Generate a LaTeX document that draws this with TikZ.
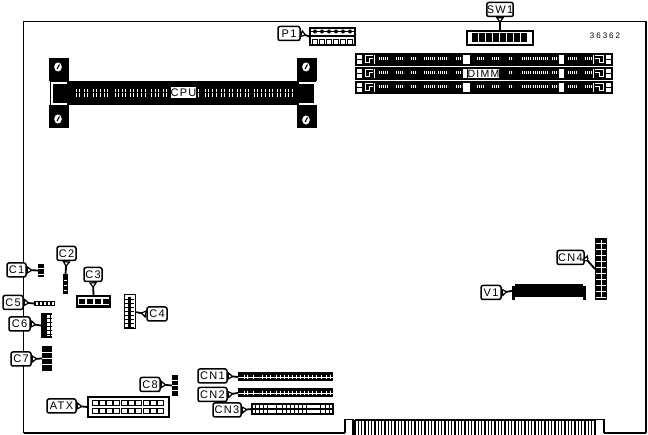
\documentclass[tikz,border=0pt]{standalone}
\usepackage{fontspec}
\setmainfont{Liberation Sans}[LetterSpace=12]
\usetikzlibrary{arrows.meta,calc}
\tikzset{
	tag/.style={draw,line width=1.5pt,rounded corners=2pt,fill=white,inner sep=0pt,minimum height=14pt,font=\fontsize{11}{12}\selectfont},
	lead/.style={line width=1.8pt,{Triangle[reversed,fill=white,line width=1.2pt,length=6pt,width=8pt]}-},
	part/.style={fill=black,inner sep=0pt,outer sep=0pt},
	hole/.style={draw=black,line width=1pt,fill=white,inner sep=0pt,outer sep=0pt},
	pin/.style={white,line width=.6pt}
}
\begin{document}
\begin{tikzpicture}[x=1pt,y=-1pt]
	\useasboundingbox (0,0) rectangle (648,435);
	% board outline
	\draw[line width=1.2pt] (23.5,433.5) -- (23.5,21.5) -- (646,21.5) -- (646,433.5);
	\draw[line width=1.2pt] (604,433.5) -- (604,419.5) -- (595,419.5);
	\draw[line width=1.2pt] (345,433.5) -- (345,419.5) -- (353,419.5) -- (353,435);
	\draw[line width=2pt] (23.5,433.5) -- (345,433.5);
	\draw[line width=2pt] (604,433.5) -- (646,433.5);
	% edge fingers
	\draw[line width=1.2pt] (355,420) -- (595,420);
	\foreach \n in {0,...,72}
		\draw[line width=1.2pt] ($(355,420)+(\n*3.333,0)$) -- ++(0,15);

	% CPU slot
	\fill (49,58) rectangle (69,81);
	\fill (49,105) rectangle (69,128);
	\fill (297,58) rectangle (317,81);
	\fill (297,105) rectangle (317,128);
	\fill (50,81) rectangle (316,105);
	\draw[white,line width=1.1pt] (67,83) -- (52,83) -- (52,104) -- (67,104);
	\draw[white,line width=1.1pt] (299,83) -- (315,83) -- (315,104) -- (299,104);
	\foreach \x/\y in {58/67,58/119,306/67,306/120} {
		\fill[white] (\x,\y) ellipse (3.8pt and 4.6pt);
		\draw[line width=1.1pt] (\x+1.5,\y-2.5) -- (\x-1,\y+2);
	}
	\foreach \x in {76,79,84,87,93,96,100,104,107,115,118,122,125,130,133,137,141,145,151,155,158,163,166,
		198,205,208,212,216,221,224,229,232,237,240,245,248,254,257,261,265,269,272,277,280,285,288,292}
		\draw[pin,line width=.9pt,dash pattern=on 3.5pt off 1pt] (\x+.5,89) -- (\x+.5,97);
	\node[part,fill=white,text=black,minimum width=23pt,minimum height=11pt,font=\fontsize{11}{12}\selectfont] (CPU) at (183.5,93) {CPU};

	% DIMM slots
	\foreach \y in {54,68,82} {
		\draw[line width=1.1pt] (356,\y) rectangle (612,\y+11);
		\fill (375,\y) rectangle (463,\y+11);
		\fill (470,\y) rectangle (559,\y+11);
		\fill (564,\y) rectangle (593,\y+11);
		\fill (362,\y) rectangle (374,\y+11);
		\fill (594,\y) rectangle (606,\y+11);
		\draw[line width=1.1pt] (356,\y+5.5) -- (362,\y+5.5);
		\draw[line width=1.1pt] (606,\y+5.5) -- (612,\y+5.5);
		\draw[white,line width=1pt] (373,\y+2) -- (365,\y+2) -- (365,\y+9) -- (369,\y+9) -- (369,\y+5) -- (373,\y+5);
		\draw[white,line width=1pt] (595,\y+2) -- (603,\y+2) -- (603,\y+9) -- (599,\y+9) -- (599,\y+5) -- (595,\y+5);
		\foreach \a/\b in {379/388,396/404,411/417,424/436,438/448,456/462,477/484,492/500,509/513,522/532,533/549,552/558,568/577,585/592}
			\draw[pin,line width=3.5pt,dash pattern=on .8pt off 1.2pt] (\a,\y+4.5) -- (\b,\y+4.5);
	}
	\node[part,fill=white,draw=black,line width=1.1pt,text=black,minimum width=31pt,minimum height=11pt,font=\fontsize{10.5}{11}\selectfont] (DIMM) at (483.5,73.5) {DIMM};

	% parts
	\node[draw,line width=1.2pt,inner sep=0pt,minimum width=66pt,minimum height=14pt] (SW) at (500,38) {};
	\fill (472,33.5) rectangle (528,42);
	\foreach \n in {0,...,7}
		\draw[white,line width=.5pt] (478+\n*7,33.5) -- (478+\n*7,42);
	\node[draw,line width=1.1pt,inner sep=0pt,minimum width=45pt,minimum height=17pt] (P) at (332.5,36.5) {};
	\draw[line width=1.8pt] (311,36) -- (354,36);
	\foreach \n in {0,...,5} {
		\fill (315+\n*7,31.5) circle (2pt);
		\draw[line width=.9pt] (312+\n*7,39.5) rectangle ++(5.5,4.5);
	}
	\draw[line width=1pt] (311,31.5) -- (354,31.5);

	\node[part,minimum width=6pt,minimum height=13pt] (Pc1) at (41,270.5) {};
	\draw[pin] (38,268) -- (44,268) (38,274) -- (44,274);
	\node[part,minimum width=5pt,minimum height=20pt] (Pc2) at (65.5,284) {};
	\foreach \y in {280,285,290}
		\draw[pin] (64,\y) -- (67,\y);
	\node[part,minimum width=35pt,minimum height=13pt] (Pc3) at (93.5,301.5) {};
	\fill[white] (78,297.5) rectangle (109,305);
	\foreach \x in {79,87,95,103}
		\fill (\x,299) rectangle ++(5.5,5);
	\node[hole,minimum width=11pt,minimum height=34pt] (Pc4) at (129.5,312) {};
	\draw[line width=3pt] (129.5,297) -- (129.5,327);
	\foreach \y in {299,303,...,327}
		\draw[line width=.8pt] (125,\y) -- (134,\y);
	\node[part,minimum width=21pt,minimum height=5pt] (Pc5) at (44.5,303.5) {};
	\foreach \x in {36,40,44,48,52}
		\fill[white] (\x,302.5) rectangle ++(2.2,2.2);
	\node[part,minimum width=11pt,minimum height=25pt] (Pc6) at (46.5,325.5) {};
	\foreach \x in {47,51}
		\fill[white] (\x-.5,315) rectangle ++(3,21);
	\foreach \y in {318,322,...,334}
		\draw[line width=.9pt] (41,\y) -- (52,\y);
	\node[part,minimum width=10pt,minimum height=25pt] (Pc7) at (47,358.5) {};
	\foreach \y in {352,358,364}
		\draw[pin] (42,\y) -- (52,\y);
	\node[part,minimum width=6pt,minimum height=21pt] (Pc8) at (175,385.5) {};
	\foreach \y in {380,385,390}
		\draw[pin] (172,\y) -- (178,\y);

	\node[draw,line width=1.1pt,inner sep=0pt,minimum width=81pt,minimum height=20pt] (Patx) at (128.5,407) {};
	\foreach \n in {0,...,9} {
		\draw[line width=.9pt] (92+\n*7.3,400) rectangle ++(6,5);
		\draw[line width=.9pt] (92+\n*7.3,408.5) rectangle ++(6,5);
	}

	\foreach \y/\name in {377/Pcn1,393/Pcn2} {
		\node[part,minimum width=95pt,minimum height=9pt] (\name) at (285.5,\y) {};
		\draw[pin] (238,\y) -- (333,\y);
		\foreach \x in {244,247,253,262,266,270,276,280,284,288,292,296,300,304,308,312,316,321,326,330}
			\draw[pin] (\x,\y-2) -- (\x,\y+2);
	}
	\node[hole,line width=1.4pt,minimum width=81pt,minimum height=10pt] (Pcn3) at (292.5,409) {};
	\draw[line width=1.4pt] (252,409) -- (333,409);
	\foreach \x in {255,259,263,267,276,282,286,290,294,298,302,306,320,325,329}
		\draw[line width=.8pt] (\x,404) -- (\x,414);

	\node[part,minimum width=12pt,minimum height=62pt] (Pcn4) at (601,269) {};
	\draw[pin] (601,240) -- (601,298);
	\foreach \n in {0,...,9}
		\draw[pin] (596,243+\n*6) -- (606,243+\n*6);
	\node[part,minimum width=68pt,minimum height=13pt] (Pv) at (549,290.5) {};
	\fill (512,286) rectangle (515,300);
	\fill (583,286) rectangle (586,300);

	% callouts
	\node[tag,minimum width=25pt] (SW1) at (500,9.5) {SW1};
	\node[tag,minimum width=22pt] (P1) at (289,33.5) {P1};
	\node[tag,minimum width=19pt] (C1) at (16.5,270) {C1};
	\node[tag,minimum width=19pt] (C2) at (66.5,253.5) {C2};
	\node[tag,minimum width=18pt] (C3) at (93,274.5) {C3};
	\node[tag,minimum width=20pt] (C4) at (157,314) {C4};
	\node[tag,minimum width=20pt] (C5) at (13,302.5) {C5};
	\node[tag,minimum width=21pt] (C6) at (19.5,324) {C6};
	\node[tag,minimum width=20pt] (C7) at (21,359) {C7};
	\node[tag,minimum width=20pt] (C8) at (150,384.5) {C8};
	\node[tag,minimum width=29pt] (ATX) at (61.5,406) {ATX};
	\node[tag,minimum width=29pt] (CN1) at (212.5,376) {CN1};
	\node[tag,minimum width=29pt] (CN2) at (212.5,394.5) {CN2};
	\node[tag,minimum width=28pt] (CN3) at (227,410) {CN3};
	\node[tag,minimum width=27pt] (CN4) at (570.5,257.5) {CN4};
	\node[tag,minimum width=20pt] (V1) at (491,292.5) {V1};

	\draw[lead] (SW1.south) -- (SW.north);
	\draw[lead] (P1.east) -- (P.west);
	\draw[lead] (C1.east) -- (Pc1.west);
	\draw[lead] (C2.south) -- (Pc2.north);
	\draw[lead] (C3.south) -- (Pc3.north);
	\draw[lead] (C4.west) -- (Pc4.east);
	\draw[lead] (C5.east) -- (Pc5.west);
	\draw[lead] (C6.east) -- (Pc6.west);
	\draw[lead] (C7.east) -- (Pc7.west);
	\draw[lead] (C8.east) -- (Pc8.west);
	\draw[lead] (ATX.east) -- (Patx.west);
	\draw[lead] (CN1.east) -- (Pcn1.west);
	\draw[lead] (CN2.east) -- (Pcn2.west);
	\draw[lead] (CN3.east) -- (Pcn3.west);
	\draw[lead] (CN4.east) -- (Pcn4.west);
	\draw[lead] (V1.east) -- (Pv.west);

	\node[inner sep=0pt,font=\addfontfeature{LetterSpace=25}\fontsize{8}{9}\selectfont] (code) at (605,36) {36362};
\end{tikzpicture}
\end{document}
